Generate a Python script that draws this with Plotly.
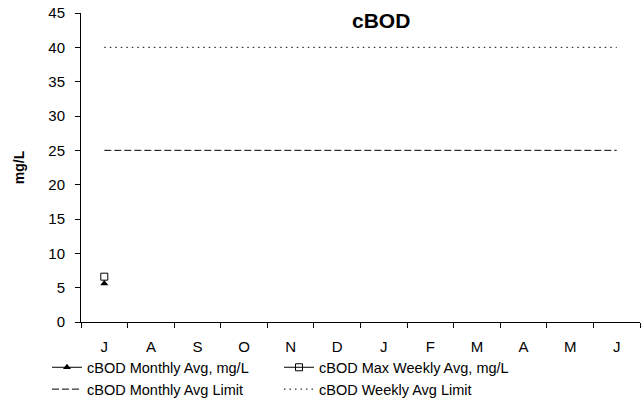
import plotly.graph_objects as go

months = ["J", "A", "S", "O", "N", "D", "J", "F", "M", "A", "M", "J"]
monthly_avg = [5.6, None, None, None, None, None, None, None, None, None, None, None]
max_weekly_avg = [6.6, None, None, None, None, None, None, None, None, None, None, None]
monthly_limit = [25] * 12
weekly_limit = [40] * 12
y_ticks = [0, 5, 10, 15, 20, 25, 30, 35, 40, 45]

x = list(range(len(months)))
font = "Liberation Sans, Arial, sans-serif"

fig = go.Figure()
fig.add_trace(go.Scatter(x=x, y=monthly_avg, name="cBOD Monthly Avg, mg/L",
                         mode="lines+markers", line=dict(color="black", width=1),
                         marker=dict(symbol="triangle-up", size=7, color="black")))
fig.add_trace(go.Scatter(x=x, y=max_weekly_avg, name="cBOD Max Weekly Avg, mg/L",
                         mode="lines+markers", line=dict(color="black", width=1),
                         marker=dict(symbol="square-open", size=7, color="black",
                                     line=dict(width=1))))
fig.add_trace(go.Scatter(x=x, y=monthly_limit, name="cBOD Monthly Avg Limit",
                         mode="lines", line=dict(color="black", width=1, dash="7px,3px")))
fig.add_trace(go.Scatter(x=x, y=weekly_limit, name="cBOD Weekly Avg Limit",
                         mode="lines", line=dict(color="black", width=1, dash="1.5px,4px")))

fig.update_layout(
    width=641, height=415,
    margin=dict(l=81, r=1, t=13, b=93, autoexpand=False),
    paper_bgcolor="white", plot_bgcolor="white",
    font=dict(family=font, size=14, color="black"),
    showlegend=True,
    legend=dict(orientation="h", x=(47 - 81) / 559, xanchor="left", y=-0.095, yanchor="top",
                entrywidth=187, entrywidthmode="pixels", font=dict(size=14.5),
                bgcolor="rgba(0,0,0,0)", tracegroupgap=0, itemwidth=30),
    annotations=[dict(text="<b>cBOD</b>", x=(381 - 81) / 559, xref="paper", y=1.02,
                      yref="paper", xanchor="center", yanchor="top", showarrow=False,
                      font=dict(size=21, family=font))],
)
fig.update_xaxes(range=[-0.5, 11.5], tickmode="array", tickvals=x, ticktext=months,
                 ticks="", showgrid=False, zeroline=False, showline=True,
                 linecolor="black", linewidth=1, tickfont=dict(size=15),
                 ticklabelstandoff=11,
                 minor=dict(tickmode="array", tickvals=[i - 0.5 for i in range(13)],
                            ticks="outside", ticklen=5, tickcolor="black", showgrid=False))
fig.update_yaxes(range=[0, 45], tickmode="array", tickvals=y_ticks, ticks="outside",
                 ticklen=5, tickcolor="black", showgrid=False, zeroline=False,
                 showline=True, linecolor="black", linewidth=1, tickfont=dict(size=15),
                 ticklabelstandoff=7,
                 title=dict(text="<b>mg/L</b>", font=dict(size=14), standoff=20))

fig.write_html("out.html", config={"displayModeBar": False},
               post_script="document.body.style.margin='0';")
